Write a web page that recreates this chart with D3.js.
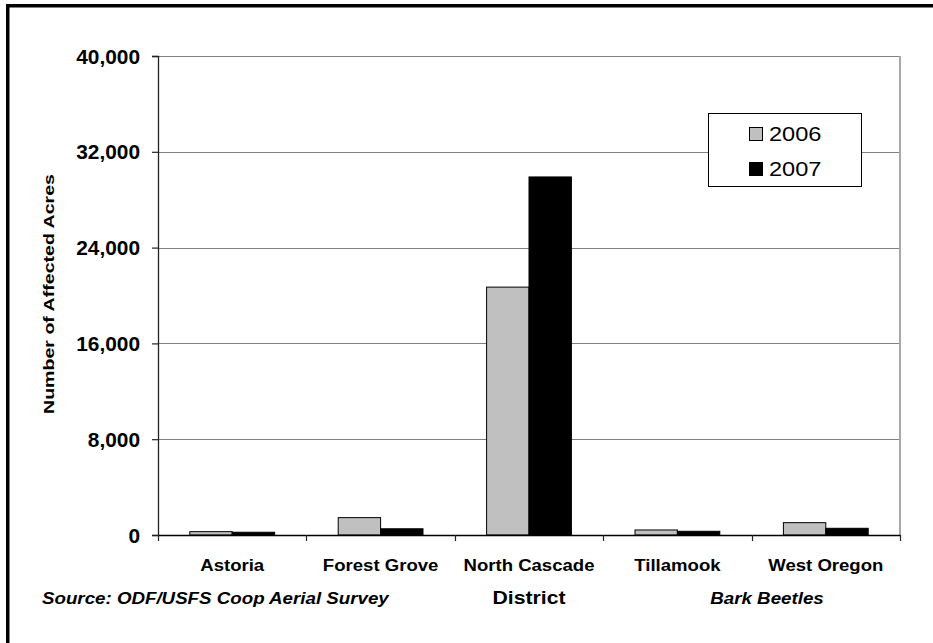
<!DOCTYPE html>
<html>
<head>
<meta charset="utf-8">
<script src="https://cdn.jsdelivr.net/npm/d3@7"></script>
<style>
  html, body { margin: 0; padding: 0; background: #fff; }
  svg { display: block; font-family: Arial, "Liberation Sans", sans-serif; }
</style>
</head>
<body>
<svg id="chart" width="933" height="643"></svg>
<script>
// Bark beetle damage by district, acres affected
const districts = ["Astoria", "Forest Grove", "North Cascade", "Tillamook", "West Oregon"];
const years = ["2006", "2007"];
const acres2006 = [280, 1450, 20700, 420, 1030];
const acres2007 = [230, 520, 29900, 310, 560];
const yTicks = [0, 8000, 16000, 24000, 32000, 40000];
const yearFill = { "2006": "#c0c0c0", "2007": "#000000" };

const svg = d3.select("#chart");
const plot = { left: 158, right: 900, top: 56, bottom: 535 };

// Stretch a text element horizontally by a factor
function stretch(sel, k) {
  sel.each(function () {
    const len = this.getComputedTextLength();
    d3.select(this).attr("textLength", len * k).attr("lengthAdjust", "spacingAndGlyphs");
  });
  return sel;
}

// Outer frame (only top and left edges fall inside the page)
svg.append("rect")
  .attr("x", 7.75).attr("y", 5.75)
  .attr("width", 1200).attr("height", 1200)
  .attr("fill", "none").attr("stroke", "#000").attr("stroke-width", 3.5);

const x0 = d3.scaleBand().domain(districts).range([plot.left, plot.right]).padding(0);
const x1 = d3.scaleBand().domain(years).range([0, x0.bandwidth()]).paddingInner(0).paddingOuter(0.75);
const y = d3.scaleLinear().domain([0, 40000]).range([plot.bottom, plot.top]);

// Horizontal gridlines
svg.append("g").selectAll("line")
  .data(yTicks.filter(d => d > 0))
  .join("line")
  .attr("x1", plot.left).attr("x2", plot.right)
  .attr("y1", d => Math.round(y(d)) + 0.5).attr("y2", d => Math.round(y(d)) + 0.5)
  .attr("stroke", "#808080").attr("stroke-width", 1.2);

// Right edge of the plot area
svg.append("line")
  .attr("x1", plot.right).attr("x2", plot.right)
  .attr("y1", plot.top).attr("y2", plot.bottom)
  .attr("stroke", "#a8a8a8").attr("stroke-width", 2);

// Bars
const rows = districts.map((d, i) => ({ district: d, values: [
  { year: "2006", value: acres2006[i] },
  { year: "2007", value: acres2007[i] }
]}));

svg.append("g").selectAll("g")
  .data(rows)
  .join("g")
  .attr("transform", d => `translate(${x0(d.district)},0)`)
  .selectAll("rect")
  .data(d => d.values)
  .join("rect")
  .attr("x", d => x1(d.year))
  .attr("width", x1.bandwidth())
  .attr("y", d => y(d.value))
  .attr("height", d => y(0) - y(d.value))
  .attr("fill", d => yearFill[d.year])
  .attr("stroke", "#000").attr("stroke-width", 1);

// Y axis
const yAxis = svg.append("g")
  .attr("transform", `translate(${plot.left},0)`)
  .call(d3.axisLeft(y).tickValues(yTicks).tickFormat(d3.format(",")).tickSizeOuter(0).tickSize(6).tickPadding(12));
yAxis.select(".domain").attr("stroke", "#222").attr("stroke-width", 1.3);
yAxis.selectAll(".tick line").attr("stroke", "#222").attr("stroke-width", 1.2);
yAxis.selectAll(".tick text")
  .attr("font-size", 19.5).attr("font-weight", "bold").attr("fill", "#000")
  .attr("font-family", "Arial, 'Liberation Sans', sans-serif")
  .attr("dy", "0.36em")
  .call(stretch, 1.07);

// X axis
const xAxis = svg.append("g")
  .attr("transform", `translate(0,${plot.bottom})`)
  .call(d3.axisBottom(x0).tickSize(0).tickSizeOuter(0));
xAxis.select(".domain").attr("stroke", "#000").attr("stroke-width", 1.3);
xAxis.selectAll(".tick text")
  .attr("y", 36).attr("dy", 0)
  .attr("font-size", 16.3).attr("font-weight", "bold").attr("fill", "#000")
  .attr("font-family", "Arial, 'Liberation Sans', sans-serif")
  .call(stretch, 1.14);
// Category boundary ticks
const bounds = districts.map(d => x0(d)).concat([plot.right]);
xAxis.selectAll(".bound")
  .data(bounds)
  .join("line")
  .attr("class", "bound")
  .attr("x1", d => Math.round(d) + 0.5).attr("x2", d => Math.round(d) + 0.5)
  .attr("y1", 0).attr("y2", 6)
  .attr("stroke", "#222").attr("stroke-width", 1.2);

// Axis titles
svg.append("text")
  .attr("transform", "translate(54,294) rotate(-90)")
  .attr("text-anchor", "middle")
  .attr("font-size", 14.4).attr("font-weight", "bold")
  .text("Number of Affected Acres")
  .call(stretch, 1.36);

svg.append("text")
  .attr("x", 529).attr("y", 604)
  .attr("text-anchor", "middle")
  .attr("font-size", 18.6).attr("font-weight", "bold")
  .text("District")
  .call(stretch, 1.14);

svg.append("text")
  .attr("x", 42).attr("y", 604)
  .attr("font-size", 16).attr("font-weight", "bold").attr("font-style", "italic")
  .text("Source: ODF/USFS Coop Aerial Survey")
  .call(stretch, 1.17);

svg.append("text")
  .attr("x", 767).attr("y", 604)
  .attr("text-anchor", "middle")
  .attr("font-size", 16).attr("font-weight", "bold").attr("font-style", "italic")
  .text("Bark Beetles")
  .call(stretch, 1.17);

// Legend
const legend = svg.append("g");
legend.append("rect")
  .attr("x", 708.5).attr("y", 113.5).attr("width", 153).attr("height", 73)
  .attr("fill", "#fff").attr("stroke", "#000").attr("stroke-width", 1);
const items = legend.selectAll("g.item")
  .data(years)
  .join("g")
  .attr("class", "item")
  .attr("transform", (d, i) => `translate(0,${i * 35})`);
items.append("rect")
  .attr("x", 749.5).attr("y", 127.5).attr("width", 13).attr("height", 13)
  .attr("fill", d => yearFill[d]).attr("stroke", "#000").attr("stroke-width", 1);
items.append("text")
  .attr("x", 769).attr("y", 141)
  .attr("font-size", 20.5)
  .text(d => d)
  .call(stretch, 1.15);
</script>
</body>
</html>
